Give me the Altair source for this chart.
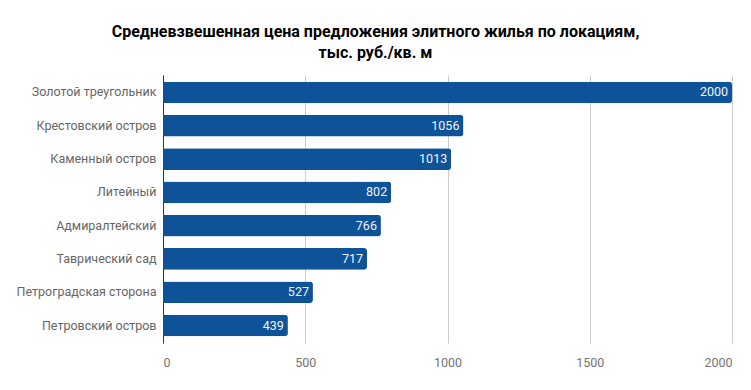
import altair as alt
import pandas as pd

locations = ["Золотой треугольник", "Крестовский остров", "Каменный остров", "Литейный",
             "Адмиралтейский", "Таврический сад", "Петроградская сторона", "Петровский остров"]
prices = [2000, 1056, 1013, 802, 766, 717, 527, 439]
x_ticks = [0, 500, 1000, 1500, 2000]

df = pd.DataFrame({"loc": locations, "price": prices})

base = alt.Chart(df).encode(
    y=alt.Y("loc:N", sort=locations, title=None,
            scale=alt.Scale(paddingInner=0.35, paddingOuter=0.2),
            axis=alt.Axis(labelFont="Roboto", labelFontSize=12.5, labelColor="#666666",
                          ticks=False, domain=True, domainColor="#333333", labelPadding=7)),
)

bars = base.mark_bar(color="#0E5397", cornerRadiusEnd=3).encode(
    x=alt.X("price:Q", title=None, scale=alt.Scale(domain=[0, 2000], nice=False),
            axis=alt.Axis(values=x_ticks, format="d", labelFont="Roboto", labelFontSize=12.5,
                          labelColor="#757575", grid=True, gridColor="#cccccc",
                          ticks=False, domain=False, labelPadding=13)),
)

text = base.mark_text(align="right", dx=-4, font="Roboto", fontSize=12.5, color="#F0F4FA").encode(
    x="price:Q", text="price:Q"
)

chart = (bars + text).properties(
    width=569, height=268,
    padding={"left": 8, "top": 16, "right": 5, "bottom": 5},
    title=alt.Title(["Средневзвешенная цена предложения элитного жилья по локациям,", "тыс. руб./кв. м"],
                    font="Roboto", fontSize=16, fontWeight="bold", color="#000000",
                    anchor="middle", dx=-72, offset=14, lineHeight=21),
).configure_view(stroke=None)

chart.save("out.html", embed_options={"renderer": "svg", "actions": False})
